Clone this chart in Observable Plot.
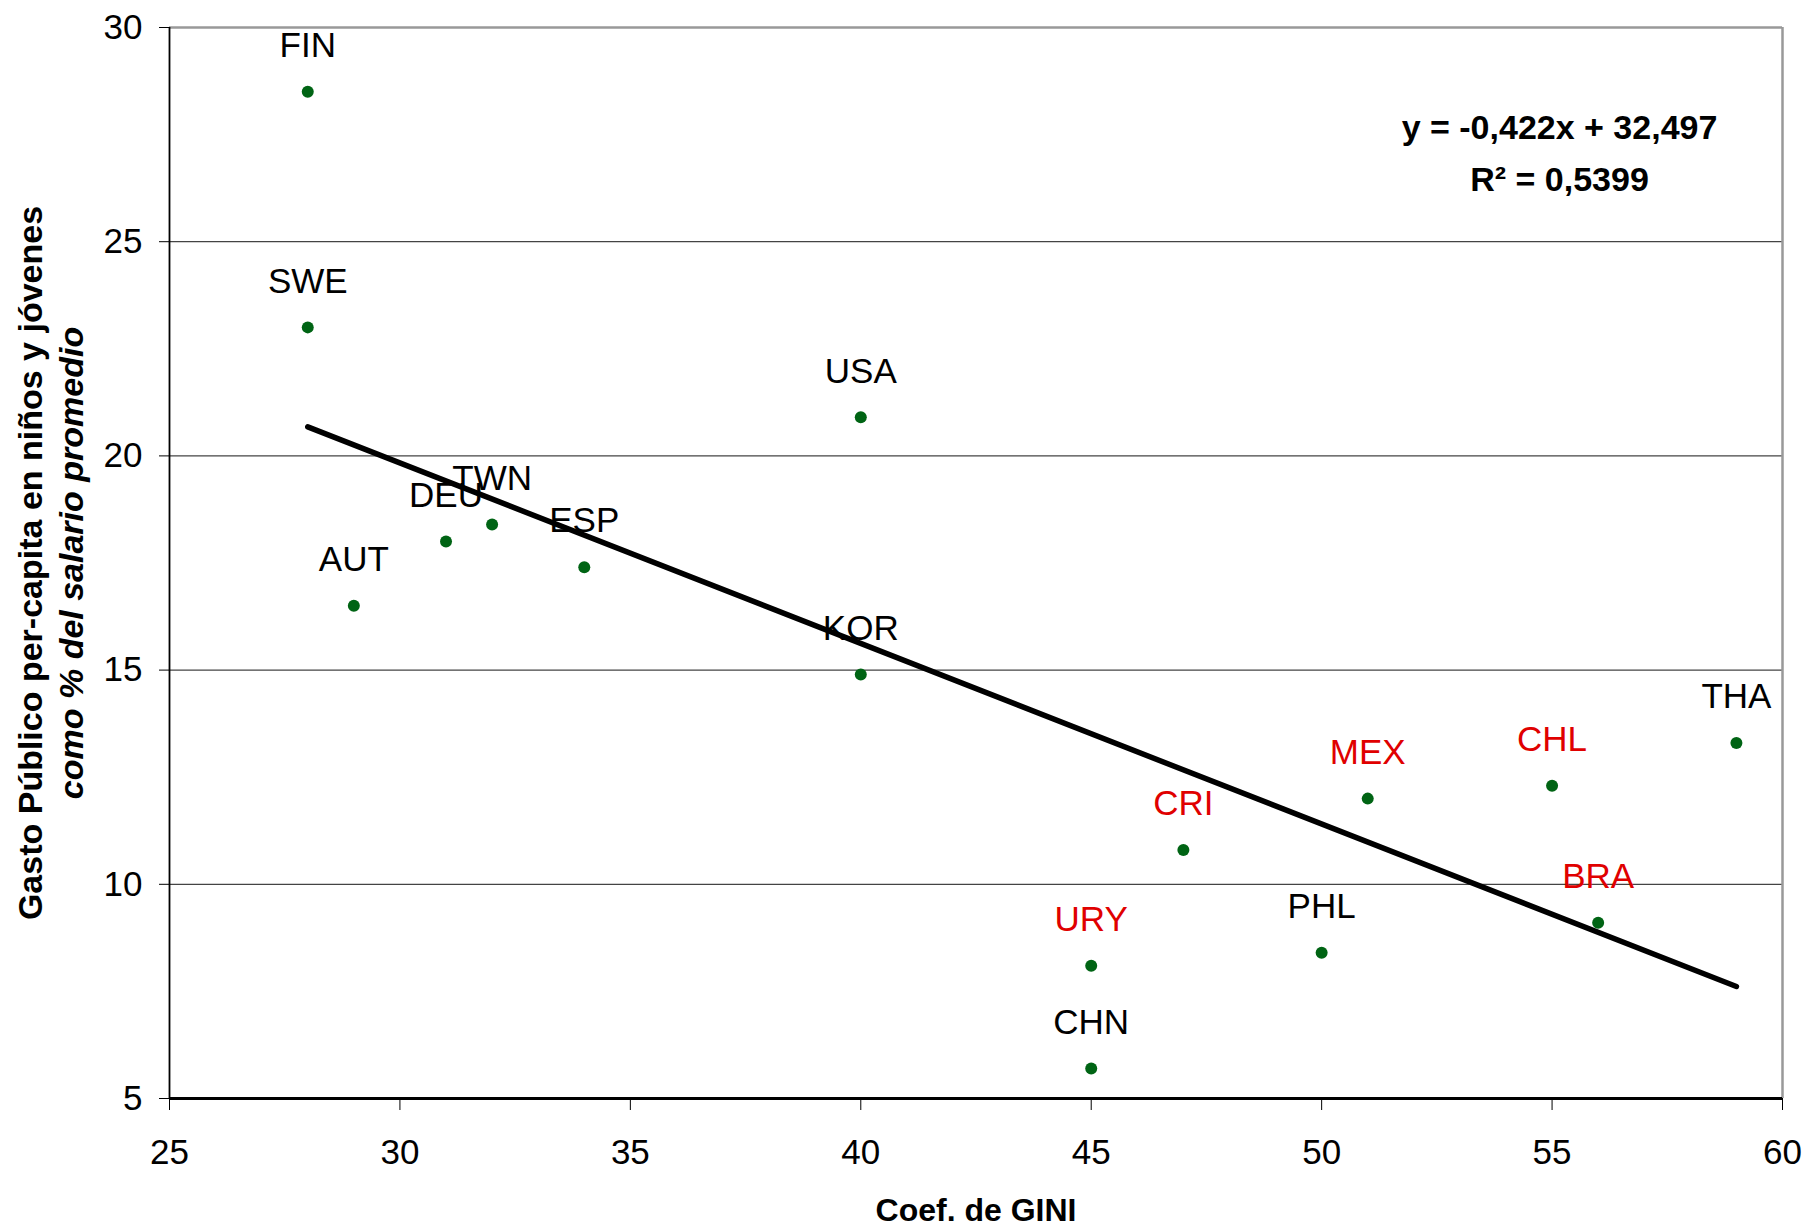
<!DOCTYPE html>
<html><head><meta charset="utf-8">
<script src="https://cdn.jsdelivr.net/npm/d3@7"></script>
<script src="https://cdn.jsdelivr.net/npm/@observablehq/plot@0.6"></script>
<style>body{margin:0;background:#fff}</style>
</head><body><div id="chart"></div>
<script>
const countries = ["FIN","SWE","USA","DEU","TWN","ESP","AUT","KOR","THA","CHL","MEX","CRI","BRA","PHL","URY","CHN"];
const gini      = [28, 28, 40, 31, 32, 34, 29, 40, 59, 55, 51, 47, 56, 50, 45, 45];
const gasto     = [28.5, 23.0, 20.9, 18.0, 18.4, 17.4, 16.5, 14.9, 13.3, 12.3, 12.0, 10.8, 9.1, 8.4, 8.1, 5.7];
const latinAmerica = ["CHL","MEX","CRI","BRA","URY"];
const xTicks = [25, 30, 35, 40, 45, 50, 55, 60];
const yTicks = [5, 10, 15, 20, 25, 30];
const equationText = "y = -0,422x + 32,497";
const r2Text = "R² = 0,5399";
const xTitle = "Coef. de GINI";
const yTitle1 = "Gasto Público per-capita en niños y jóvenes";
const yTitle2 = "como % del salario promedio";

const data = countries.map((c, i) => ({country: c, gini: gini[i], gasto: gasto[i], latam: latinAmerica.includes(c)}));

const font = "Liberation Sans, Arial, Helvetica, sans-serif";
const chart = Plot.plot({
  width: 1805,
  height: 1228,
  marginLeft: 169,
  marginRight: 23,
  marginTop: 27,
  marginBottom: 130,
  style: {fontFamily: font, background: "#fff", color: "#000"},
  x: {domain: [25, 60]},
  y: {domain: [5, 30]},
  marks: [
    Plot.ruleY(yTicks.filter(d => d > 5 && d < 30), {stroke: "#444", strokeWidth: 1.2}),
    Plot.ruleY([30], {stroke: "#999", strokeWidth: 2.5}),
    Plot.ruleX([60], {stroke: "#999", strokeWidth: 2.5}),
    Plot.axisY({ticks: yTicks, tickSize: 10, tickPadding: 17, fontSize: 35, label: null, stroke: "#000"}),
    Plot.axisX({ticks: xTicks, tickSize: 12, tickPadding: 29, fontSize: 35, label: null, stroke: "#000"}),
    Plot.ruleX([25], {stroke: "#000", strokeWidth: 1.8}),
    Plot.ruleY([5], {stroke: "#000", strokeWidth: 3}),
    Plot.linearRegressionY(data, {x: "gini", y: "gasto", ci: 0, stroke: "#000", strokeWidth: 5.5}),
    Plot.dot(data, {x: "gini", y: "gasto", r: 6, fill: "#006414", stroke: "none"}),
    Plot.text(data.filter(d => !d.latam), {x: "gini", y: "gasto", text: "country", dy: -46, fontSize: 35, fill: "#000"}),
    Plot.text(data.filter(d => d.latam), {x: "gini", y: "gasto", text: "country", dy: -46, fontSize: 35, fill: "#e00000"}),
    Plot.text([equationText], {frameAnchor: "top-right", dx: -223, dy: 101, fontSize: 34, fontWeight: "bold", textAnchor: "middle", lineAnchor: "middle", fill: "#000"}),
    Plot.text([r2Text], {frameAnchor: "top-right", dx: -223, dy: 153, fontSize: 34, fontWeight: "bold", textAnchor: "middle", lineAnchor: "middle", fill: "#000"}),
    Plot.text([xTitle], {frameAnchor: "bottom", dy: 112, fontSize: 32, fontWeight: "bold", lineAnchor: "middle", fill: "#000"}),
    Plot.text([yTitle1], {frameAnchor: "left", dx: -138, rotate: -90, fontSize: 34, fontWeight: "bold", textAnchor: "middle", lineAnchor: "middle", fill: "#000"}),
    Plot.text([yTitle2], {frameAnchor: "left", dx: -97, rotate: -90, fontSize: 34, fontWeight: "bold", fontStyle: "italic", textAnchor: "middle", lineAnchor: "middle", fill: "#000"})
  ]
});
document.getElementById("chart").appendChild(chart);
</script>
</body></html>
